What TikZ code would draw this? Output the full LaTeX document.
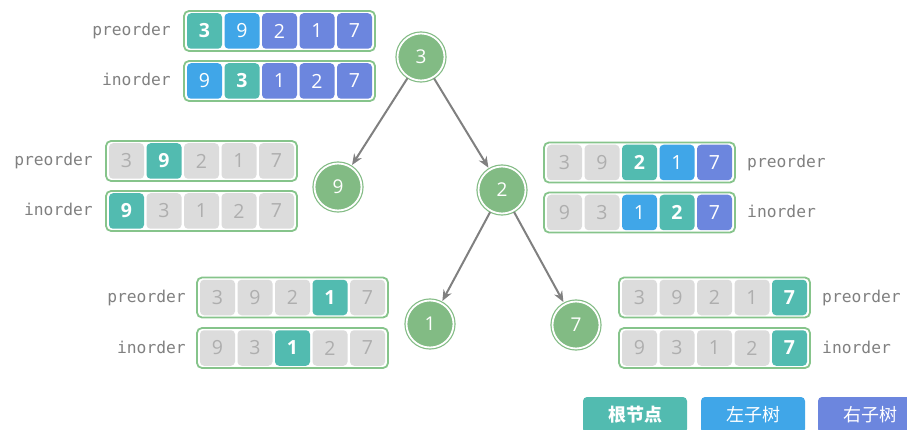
\documentclass[tikz,border=0pt]{standalone}
\usepackage{fontspec}
\usetikzlibrary{arrows.meta}
\newfontfamily\cellfont{Open Sans}
\newfontfamily\lblfont{DejaVu Sans Mono}
\newfontfamily\cjkfont{Noto Sans CJK SC}
\definecolor{rootc}{HTML}{52BBB0}
\definecolor{leftc}{HTML}{40A6E8}
\definecolor{rightc}{HTML}{6C86DE}
\definecolor{grayfill}{HTML}{DCDCDC}
\definecolor{graytext}{HTML}{AEAEAE}
\definecolor{boxgreen}{HTML}{86C48B}
\definecolor{nodegreen}{HTML}{82BB84}
\definecolor{lblgray}{HTML}{808080}
\definecolor{edgegray}{HTML}{808080}
\tikzset{
  arrbox/.style={draw=boxgreen, line width=1.8pt, rounded corners=5pt, fill=white,
    minimum width=191pt, minimum height=40pt, inner sep=0pt},
  cell/.style={rounded corners=4pt, minimum width=35pt, minimum height=35.5pt,
    inner sep=0pt, font=\cellfont\fontsize{19.5}{22}\selectfont},
  rootcell/.style={cell, fill=rootc, text=white, font=\cellfont\bfseries\fontsize{19.5}{22}\selectfont},
  leftcell/.style={cell, fill=leftc, text=white},
  rightcell/.style={cell, fill=rightc, text=white},
  graycell/.style={cell, fill=grayfill, text=graytext},
  lbl/.style={text=lblgray, inner sep=0pt,
    font=\lblfont\fontsize{16.3}{20}\selectfont},
  treenode/.style={circle, fill=nodegreen, draw=nodegreen, line width=1.2pt,
    double=white, double distance=1.8pt, minimum size=47pt, inner sep=0pt,
    text=white, font=\cellfont\fontsize{19}{22}\selectfont},
  edge/.style={draw=edgegray, line width=2pt, shorten >=2pt, shorten <=1pt,
    -{Stealth[length=11pt,width=9pt]}},
  legend/.style={rounded corners=4pt, minimum width=104pt, minimum height=36pt,
    inner sep=0pt, text=white, font=\cjkfont\fontsize{18}{21}\selectfont},
}
\newcommand\cellrow[4]{%
  \node[arrbox] (#1) at ({#2+95.5},#3) {};
  \foreach \s/\v [count=\i] in {#4} {
    \node[\s] (#1-\i) at ({#2+20.5+(\i-1)*37.5},#3) {\v};
  }%
}
\begin{document}
\begin{tikzpicture}[x=1pt,y=-1pt]
\useasboundingbox (0,0) rectangle (907,430);

% tree nodes
\node[treenode] (n3) at (421,57) {3};
\node[treenode] (n9) at (338,187) {9};
\node[treenode] (n2) at (502,190) {2};
\node[treenode] (n1) at (430,324) {1};
\node[treenode] (n7) at (576,325) {7};

\draw[edge] (n3) -- (n9);
\draw[edge] (n3) -- (n2);
\draw[edge] (n2) -- (n1);
\draw[edge] (n2) -- (n7);

% top arrays
\cellrow{tp}{184}{31}{rootcell/3, leftcell/9, rightcell/2, rightcell/1, rightcell/7}
\cellrow{ti}{184}{81}{leftcell/9, rootcell/3, rightcell/1, rightcell/2, rightcell/7}
\node[lbl, anchor=base east] (tpl) at (171,36) {preorder};
\node[lbl, anchor=base east] (til) at (171,86) {inorder};

% left (9)
\cellrow{lp}{106}{161}{graycell/3, rootcell/9, graycell/2, graycell/1, graycell/7}
\cellrow{li}{106}{211}{rootcell/9, graycell/3, graycell/1, graycell/2, graycell/7}
\node[lbl, anchor=base east] (lpl) at (93,166) {preorder};
\node[lbl, anchor=base east] (lil) at (93,216) {inorder};

% right (2)
\cellrow{rp}{544}{162.5}{graycell/3, graycell/9, rootcell/2, leftcell/1, rightcell/7}
\cellrow{ri}{544}{212.5}{graycell/9, graycell/3, leftcell/1, rootcell/2, rightcell/7}
\node[lbl, anchor=base west] (rpl) at (747,167.5) {preorder};
\node[lbl, anchor=base west] (ril) at (747,217.5) {inorder};

% bottom left (1)
\cellrow{bp}{197}{297.5}{graycell/3, graycell/9, graycell/2, rootcell/1, graycell/7}
\cellrow{bi}{197}{348}{graycell/9, graycell/3, rootcell/1, graycell/2, graycell/7}
\node[lbl, anchor=base east] (bpl) at (186,302.5) {preorder};
\node[lbl, anchor=base east] (bil) at (186,353) {inorder};

% bottom right (7)
\cellrow{cp}{619}{297.5}{graycell/3, graycell/9, graycell/2, graycell/1, rootcell/7}
\cellrow{ci}{619}{348}{graycell/9, graycell/3, graycell/1, graycell/2, rootcell/7}
\node[lbl, anchor=base west] (cpl) at (822,302.5) {preorder};
\node[lbl, anchor=base west] (cil) at (822,353) {inorder};

% legend
\node[legend, fill=rootc, font=\cjkfont\bfseries\fontsize{18}{21}\selectfont] (lg1) at (635,415) {根节点};
\node[legend, fill=leftc] (lg2) at (753,415) {左子树};
\node[legend, fill=rightc] (lg3) at (870,415) {右子树};
\end{tikzpicture}
\end{document}
